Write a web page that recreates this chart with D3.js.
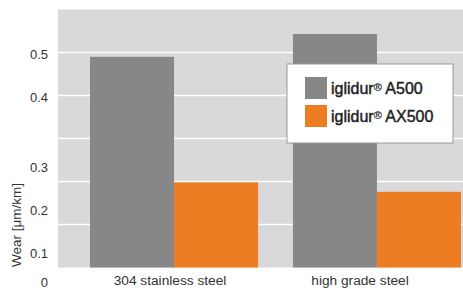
<!DOCTYPE html>
<html>
<head>
<meta charset="utf-8">
<script src="https://cdn.jsdelivr.net/npm/d3@7"></script>
<style>
  body { margin: 0; background: #fff; }
  text { font-family: "Liberation Sans", Arial, sans-serif; }
</style>
</head>
<body>
<div id="chart"></div>
<script>
// wear rates
const categories = ["304 stainless steel", "high grade steel"];
const seriesNames = ["A500", "AX500"];
const a500 = [0.490, 0.543];
const ax500 = [0.198, 0.176];
const yTicks = [0.5, 0.4, 0.3, 0.2, 0.1, 0];
const gridValues = [0.1, 0.2, 0.3, 0.4, 0.5];

const W = 463, H = 289;
const plot = {left: 58, right: 463, top: 9.5, bottom: 267.5};
const colors = {A500: "#878787", AX500: "#ec7d22"};

const svg = d3.select("#chart").append("svg")
  .attr("width", W).attr("height", H);

const y = d3.scaleLinear().domain([0, 0.6]).range([plot.bottom, plot.top]);

const x0 = d3.scaleBand()
  .domain(categories)
  .range([plot.left + 32, plot.right - 2])
  .paddingInner(0.172)
  .paddingOuter(0);

const x1 = d3.scaleBand()
  .domain(seriesNames)
  .range([0, x0.bandwidth()]);

// plot background
svg.append("rect")
  .attr("x", plot.left).attr("y", plot.top)
  .attr("width", plot.right - plot.left)
  .attr("height", plot.bottom - plot.top)
  .attr("fill", "#d9d9d9");

// white grid lines
svg.selectAll(".grid")
  .data(gridValues)
  .enter().append("line")
  .attr("x1", plot.left).attr("x2", plot.right)
  .attr("y1", d => y(d)).attr("y2", d => y(d))
  .attr("stroke", "#fff")
  .attr("stroke-width", 1.6);

// bars
const rows = categories.map((c, i) => ({cat: c, A500: a500[i], AX500: ax500[i]}));

const groups = svg.selectAll(".grp")
  .data(rows)
  .enter().append("g")
  .attr("transform", d => `translate(${x0(d.cat)},0)`);

groups.selectAll("rect")
  .data(d => seriesNames.map(s => ({s: s, v: d[s]})))
  .enter().append("rect")
  .attr("x", d => x1(d.s))
  .attr("width", x1.bandwidth())
  .attr("y", d => y(d.v))
  .attr("height", d => y(0) - y(d.v))
  .attr("fill", d => colors[d.s]);

// y tick labels (lower ones sit a bit under their line in the original)
const nudge = v => v >= 0.4 ? 6.5 : (v > 0 ? 33 : 19.5);
svg.selectAll(".ytick")
  .data(yTicks)
  .enter().append("text")
  .attr("x", 48)
  .attr("y", d => y(d) + nudge(d))
  .attr("text-anchor", "end")
  .attr("font-size", 13)
  .attr("fill", "#333")
  .text(d => d === 0 ? "0" : d3.format(".1f")(d));

// category labels
const xl = d3.scalePoint().domain(categories).range([170, 360]);
svg.selectAll(".xlab")
  .data(categories)
  .enter().append("text")
  .attr("x", d => xl(d))
  .attr("y", 285)
  .attr("text-anchor", "middle")
  .attr("font-size", 13.7)
  .attr("fill", "#333")
  .text(d => d);

// axis title
svg.append("text")
  .attr("transform", "translate(21,225) rotate(-90)")
  .attr("text-anchor", "middle")
  .attr("font-size", 13.5)
  .attr("fill", "#333")
  .text("Wear [μm/km]");

// legend
const lg = svg.append("g").attr("transform", "translate(287,64)");
lg.append("rect")
  .attr("width", 166).attr("height", 79)
  .attr("fill", "#fff")
  .attr("stroke", "#999")
  .attr("stroke-width", 1);

const items = lg.selectAll(".item")
  .data(seriesNames)
  .enter().append("g")
  .attr("transform", (d, i) => `translate(18,${13 + i * 28})`);

items.append("rect")
  .attr("width", 22).attr("height", 22)
  .attr("fill", d => colors[d]);

const lt = items.append("text")
  .attr("x", 26).attr("y", 17)
  .attr("font-size", 16)
  .attr("fill", "#222")
  .attr("stroke", "#222")
  .attr("stroke-width", 0.45);
lt.append("tspan").text("iglidur");
lt.append("tspan").attr("font-size", 11).attr("dy", -3).attr("stroke-width", 0.2).text("®");
lt.append("tspan").attr("dy", 3).text(d => " " + d);
</script>
</body>
</html>
